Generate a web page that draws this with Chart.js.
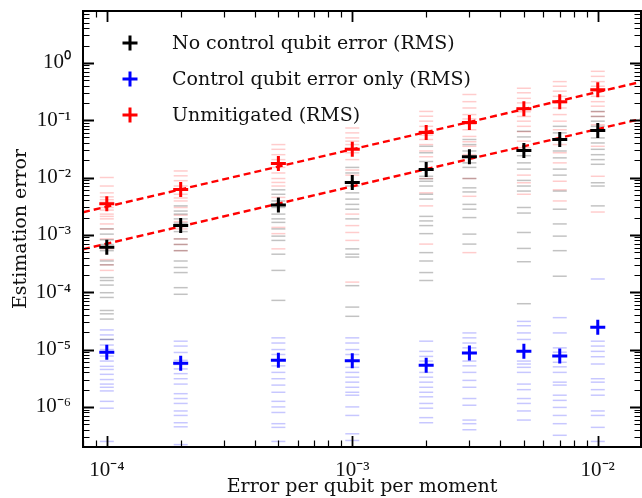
<!DOCTYPE html>
<html>
<head>
<meta charset="utf-8">
<script src="https://cdn.jsdelivr.net/npm/chart.js@4.4.1/dist/chart.umd.min.js"></script>
<style>
  html, body { margin: 0; padding: 0; background: #ffffff; }
  canvas { display: block; }
</style>
</head>
<body>
<canvas id="myChart" width="642" height="498"></canvas>
<script>
//DATA
const errorRates = [1e-4, 2e-4, 5e-4, 1e-3, 2e-3, 3e-3, 5e-3, 7e-3, 1e-2];

const rmsNoControl = [6.1e-4, 1.46e-3, 3.3e-3, 8.2e-3, 1.38e-2, 2.3e-2, 2.95e-2, 4.6e-2, 6.6e-2];
const rmsControlOnly = [9.0e-6, 5.8e-6, 6.5e-6, 6.4e-6, 5.3e-6, 8.7e-6, 9.3e-6, 7.7e-6, 2.46e-5];
const rmsUnmitigated = [3.5e-3, 6.2e-3, 1.75e-2, 3.1e-2, 6.1e-2, 9.1e-2, 0.158, 0.21, 0.34];

//single-run estimates (one list per error rate)
const samplesNoControl = [
  [1.27e-3, 1.03e-3, 8.2e-4, 6.8e-4, 5.3e-4, 3.5e-4, 3.0e-4, 1.8e-4, 1.6e-4, 1.33e-4, 9.8e-5, 8.1e-5, 4.8e-5, 4.2e-5, 3.4e-5, 1.5e-5],
  [3.2e-3, 2.6e-3, 2.3e-3, 1.9e-3, 1.6e-3, 1.4e-3, 1.14e-3, 8.5e-4, 6.8e-4, 5.3e-4, 3.5e-4, 2.7e-4, 2.2e-4, 1.2e-4, 9.2e-5],
  [6.1e-3, 5.1e-3, 3.9e-3, 3.0e-3, 2.3e-3, 1.9e-3, 1.65e-3, 1.27e-3, 9.5e-4, 8.0e-4, 4.6e-4, 2.4e-4, 7.2e-5],
  [1.5e-2, 1.2e-2, 7.1e-3, 5.4e-3, 4.2e-3, 3.4e-3, 2.8e-3, 1.9e-3, 5.7e-4, 4.6e-4, 4.1e-4, 1.3e-4, 5.5e-5, 3.8e-5],
  [3.5e-2, 2.7e-2, 1.9e-2, 1.05e-2, 9.5e-3, 8.6e-3, 7.1e-3, 5.1e-3, 4.2e-3, 2.1e-3, 1.75e-3, 1.45e-3, 1.05e-3, 4.9e-4, 3.5e-4, 2.2e-4, 1.6e-4],
  [4.6e-2, 3.75e-2, 2.9e-2, 1.8e-2, 1.5e-2, 9.6e-3, 6.6e-3, 5.6e-3, 3.4e-3, 2.8e-3, 2.0e-3, 1.03e-3, 6.9e-4],
  [6.4e-2, 5.1e-2, 2.4e-2, 1.8e-2, 1.4e-2, 8.9e-3, 7.1e-3, 5.8e-3, 3.0e-3, 2.4e-3, 1.1e-3, 5.8e-4, 3.4e-4, 6.3e-5],
  [7.8e-2, 6.0e-2, 2.9e-2, 2.2e-2, 1.4e-2, 1.1e-2, 5.8e-3, 2.8e-3, 1.55e-3, 9.5e-4, 5.3e-4, 1.9e-4],
  [0.142, 0.116, 9.6e-2, 7.8e-2, 4.9e-2, 4.0e-2, 3.1e-2, 2.5e-2, 2.05e-2, 1.7e-2, 8.1e-3, 7.1e-3, 3.2e-3],
];

const samplesControlOnly = [
  [2.2e-5, 1.8e-5, 1.5e-5, 1.2e-5, 1.0e-5, 7.7e-6, 6.3e-6, 5.1e-6, 4.5e-6, 3.7e-6, 3.0e-6, 2.5e-6, 2.2e-6, 1.9e-6, 1.25e-6, 9.5e-7, 2.5e-7],
  [1.4e-5, 1.15e-5, 8.9e-6, 6.5e-6, 5.5e-6, 4.6e-6, 3.8e-6, 3.1e-6, 2.5e-6, 1.7e-6, 1.4e-6, 1.15e-6, 8.5e-7, 7.1e-7, 5.3e-7, 4.5e-7, 2.2e-7],
  [1.6e-5, 1.3e-5, 1.0e-5, 8.2e-6, 5.2e-6, 4.0e-6, 3.1e-6, 2.4e-6, 1.8e-6, 1.25e-6, 1.0e-6, 8.0e-7, 5.1e-7, 4.4e-7, 2.5e-7],
  [1.6e-5, 1.3e-5, 1.0e-5, 8.2e-6, 4.9e-6, 4.0e-6, 3.3e-6, 2.7e-6, 2.2e-6, 1.8e-6, 1.6e-6, 1.0e-6, 7.1e-7, 3.4e-7, 2.6e-7],
  [1.4e-5, 9.3e-6, 7.6e-6, 6.3e-6, 4.0e-6, 3.3e-6, 2.7e-6, 2.2e-6, 1.8e-6, 1.5e-6, 1.15e-6, 9.5e-7, 6.5e-7, 5.3e-7],
  [1.95e-5, 1.6e-5, 1.3e-5, 1.07e-5, 6.3e-6, 5.2e-6, 4.0e-6, 2.9e-6, 2.2e-6, 1.4e-6, 1.07e-6, 5.9e-7, 5.1e-7, 4.0e-7],
  [3.1e-5, 2.6e-5, 1.95e-5, 1.5e-5, 6.3e-6, 5.6e-6, 4.9e-6, 4.0e-6, 2.5e-6, 2.0e-6, 1.4e-6, 1.15e-6, 8.5e-7, 5.9e-7],
  [3.6e-5, 1.95e-5, 1.07e-5, 9.0e-6, 6.0e-6, 5.0e-6, 4.0e-6, 2.7e-6, 2.4e-6, 1.6e-6, 1.3e-6, 9.8e-7, 7.1e-7, 5.1e-7, 3.2e-7],
  [1.7e-4, 1.4e-5, 1.15e-5, 9.3e-6, 7.5e-6, 5.6e-6, 3.1e-6, 2.7e-6, 2.0e-6, 1.6e-6, 8.5e-7, 7.1e-7, 4.4e-7, 2.5e-7],
];

const samplesUnmitigated = [
  [1.0e-2, 7.1e-3, 5.4e-3, 4.6e-3, 4.1e-3, 3.7e-3, 3.0e-3, 2.7e-3, 2.3e-3, 2.1e-3, 1.9e-3, 1.55e-3, 1.27e-3, 8.5e-4, 5.7e-4, 3.7e-4, 3.0e-4, 2.4e-4],
  [1.3e-2, 1.07e-2, 8.8e-3, 7.1e-3, 6.0e-3, 5.1e-3, 4.4e-3, 3.9e-3, 3.0e-3, 2.2e-3, 1.7e-3, 1.27e-3, 8.5e-4, 6.8e-4, 5.3e-4],
  [3.75e-2, 3.1e-2, 2.5e-2, 2.05e-2, 1.75e-2, 1.5e-2, 1.2e-2, 9.6e-3, 8.2e-3, 7.1e-3, 4.5e-3, 1.35e-3, 1.05e-3, 5.7e-4],
  [7.3e-2, 6.0e-2, 4.9e-2, 4.3e-2, 3.75e-2, 3.2e-2, 2.7e-2, 2.05e-2, 1.35e-2, 1.1e-2, 2.3e-3, 1.45e-3, 1.1e-3, 8.0e-4, 1.5e-4],
  [0.142, 0.117, 9.6e-2, 7.8e-2, 6.5e-2, 5.5e-2, 4.6e-2, 3.75e-2, 2.9e-2, 2.3e-2, 9.6e-3, 5.4e-3, 3.2e-3, 6.9e-4],
  [0.28, 0.21, 0.163, 0.125, 0.105, 8.5e-2, 6.8e-2, 5.2e-2, 4.2e-2, 3.5e-2, 2.5e-2, 9.6e-3, 4.7e-3, 4.9e-4],
  [0.36, 0.30, 0.24, 0.2, 0.165, 0.14, 0.116, 9.6e-2, 7.8e-2, 6.3e-2, 4.3e-2, 3.3e-2, 1.1e-2, 8.1e-3, 5.1e-3],
  [0.47, 0.39, 0.32, 0.26, 0.2, 0.163, 0.125, 9.6e-2, 6.8e-2, 3.75e-2, 2.7e-2, 1.8e-2, 8.6e-3, 6.1e-3, 3.9e-3],
  [0.71, 0.58, 0.47, 0.39, 0.32, 0.26, 0.21, 0.175, 0.14, 0.116, 8.3e-2, 3.5e-2, 1.05e-2, 2.5e-3],
];

//dashed fit lines, end points at the axis limits
const fitX = [8e-5, 1.5e-2];
const fitUnmitigated = [2.48e-3, 0.465];
const fitNoControl = [5.6e-4, 0.105];

//AXES
const xLimits = [8e-5, 1.5e-2];
const yLimits = [2e-7, 8];
const xTickValues = [1e-4, 1e-3, 1e-2];
const xTickLabels = ["10\u207B\u2074", "10\u207B\u00B3", "10\u207B\u00B2"];
const yTickValues = [1e-6, 1e-5, 1e-4, 1e-3, 1e-2, 1e-1, 1e0];
const yTickLabels = ["10\u207B\u2076", "10\u207B\u2075", "10\u207B\u2074", "10\u207B\u00B3", "10\u207B\u00B2", "10\u207B\u00B9", "10\u2070"];

const legendLabels = ["No control qubit error (RMS)", "Control qubit error only (RMS)", "Unmitigated (RMS)"];
const seriesColours = ["#000000", "#0000ff", "#ff0000"];
const sampleColours = ["rgba(0,0,0,0.24)", "rgba(0,0,255,0.22)", "rgba(255,0,0,0.2)"];

const SERIF = '"DejaVu Serif", serif';
const TICKFONT = '"Liberation Serif", serif';
const TEXTCOLOUR = "#111";

//HELPERS
function toPoints(xs, ys) {
  return xs.map((x, i) => ({ x: x, y: ys[i] }));
}
function flattenSamples(groups) {
  const pts = [];
  groups.forEach((list, i) => list.forEach((v) => pts.push({ x: errorRates[i], y: v })));
  return pts;
}

function sampleSet(groups, colour) {
  return {
    data: flattenSamples(groups),
    pointStyle: "line",
    pointRadius: 7,
    borderWidth: 1.5,
    borderColor: colour,
    backgroundColor: colour,
    order: 3,
  };
}
function fitSet(ys) {
  return {
    data: toPoints(fitX, ys),
    showLine: true,
    borderColor: "#ff0000",
    borderWidth: 2.4,
    borderDash: [7, 4],
    pointRadius: 0,
    order: 2,
  };
}
function rmsSet(ys, colour) {
  return {
    data: toPoints(errorRates, ys),
    pointStyle: "cross",
    pointRadius: 7.5,
    borderWidth: 3,
    borderColor: colour,
    backgroundColor: colour,
    order: 1,
  };
}

//no automatic label padding, the plot box is set by layout.padding
function clearPadding(axis) {
  axis.paddingTop = 0;
  axis.paddingBottom = 0;
  axis.paddingLeft = 0;
  axis.paddingRight = 0;
}

//FRAME + INWARD TICKS ON ALL SIDES
const framePlugin = {
  id: "frameTicks",
  afterDraw(chart) {
    const ctx = chart.ctx;
    const a = chart.chartArea;
    const xs = chart.scales.x;
    const ys = chart.scales.y;
    ctx.save();
    ctx.strokeStyle = "#000";

    function logValues(lim) {
      const out = [];
      for (let d = Math.floor(Math.log10(lim[0])); d <= Math.ceil(Math.log10(lim[1])); d++) {
        for (let m = 1; m <= 9; m++) {
          const v = m * Math.pow(10, d);
          if (v >= lim[0] && v <= lim[1]) out.push({ v: v, major: m === 1 });
        }
      }
      return out;
    }

    logValues(xLimits).forEach((t) => {
      const px = Math.round(xs.getPixelForValue(t.v)) + 0.5;
      const len = t.major ? 11 : 6.5;
      ctx.lineWidth = t.major ? 1.8 : 1.2;
      ctx.beginPath();
      ctx.moveTo(px, a.bottom);
      ctx.lineTo(px, a.bottom - len);
      ctx.moveTo(px, a.top);
      ctx.lineTo(px, a.top + len);
      ctx.stroke();
    });
    logValues(yLimits).forEach((t) => {
      const py = Math.round(ys.getPixelForValue(t.v)) + 0.5;
      const len = t.major ? 11 : 6.5;
      ctx.lineWidth = t.major ? 1.8 : 1.2;
      ctx.beginPath();
      ctx.moveTo(a.left, py);
      ctx.lineTo(a.left + len, py);
      ctx.moveTo(a.right, py);
      ctx.lineTo(a.right - len, py);
      ctx.stroke();
    });

    ctx.lineWidth = 2;
    ctx.strokeRect(a.left, a.top, a.right - a.left, a.bottom - a.top);
    ctx.restore();
  },
};

//LEGEND INSIDE THE PLOT
const legendPlugin = {
  id: "insideLegend",
  afterDraw(chart) {
    const ctx = chart.ctx;
    ctx.save();
    legendLabels.forEach((label, i) => {
      const mx = 130;
      const my = 43 + i * 36;
      ctx.strokeStyle = seriesColours[i];
      ctx.lineWidth = 3;
      ctx.beginPath();
      ctx.moveTo(mx - 7.5, my);
      ctx.lineTo(mx + 7.5, my);
      ctx.moveTo(mx, my - 7.5);
      ctx.lineTo(mx, my + 7.5);
      ctx.stroke();
      ctx.fillStyle = TEXTCOLOUR;
      ctx.font = "19px " + SERIF;
      ctx.textAlign = "left";
      ctx.textBaseline = "middle";
      ctx.fillText(label, 172, my + 1);
    });
    ctx.restore();
  },
};

//CHART CONFIGURATION
const data = {
  datasets: [
    sampleSet(samplesNoControl, sampleColours[0]),
    sampleSet(samplesControlOnly, sampleColours[1]),
    sampleSet(samplesUnmitigated, sampleColours[2]),
    fitSet(fitUnmitigated),
    fitSet(fitNoControl),
    rmsSet(rmsNoControl, seriesColours[0]),
    rmsSet(rmsControlOnly, seriesColours[1]),
    rmsSet(rmsUnmitigated, seriesColours[2]),
  ],
};

const config = {
  type: "scatter",
  data,
  options: {
    responsive: false,
    animation: false,
    events: [],
    devicePixelRatio: 1,
    layout: { autoPadding: false, padding: { top: 11, right: 1, left: 0, bottom: 0 } },
    plugins: {
      legend: { display: false },
      tooltip: { enabled: false },
    },
    scales: {
      x: {
        type: "logarithmic",
        min: xLimits[0],
        max: xLimits[1],
        afterBuildTicks: (axis) => {
          axis.ticks = xTickValues.map((v) => ({ value: v }));
        },
        afterFit: (axis) => {
          axis.height = 51;
          clearPadding(axis);
        },
        grid: { display: false },
        border: { display: false },
        ticks: {
          autoSkip: false,
          maxRotation: 0,
          padding: 3,
          color: TEXTCOLOUR,
          font: { family: TICKFONT, size: 21 },
          callback: (v, i) => xTickLabels[i],
        },
        title: {
          display: true,
          text: "Error per qubit per moment",
          color: TEXTCOLOUR,
          font: { family: SERIF, size: 19 },
          padding: { top: 0, bottom: 0 },
        },
      },
      y: {
        type: "logarithmic",
        min: yLimits[0],
        max: yLimits[1],
        afterBuildTicks: (axis) => {
          axis.ticks = yTickValues.map((v) => ({ value: v }));
        },
        afterFit: (axis) => {
          axis.width = 83;
          clearPadding(axis);
        },
        grid: { display: false },
        border: { display: false },
        ticks: {
          autoSkip: false,
          padding: 4,
          color: TEXTCOLOUR,
          font: { family: TICKFONT, size: 21 },
          callback: (v, i) => yTickLabels[i],
        },
        title: {
          display: true,
          text: "Estimation error",
          color: TEXTCOLOUR,
          font: { family: SERIF, size: 19 },
          padding: { top: 10, bottom: 0 },
        },
      },
    },
  },
  plugins: [framePlugin, legendPlugin],
};

// RENDER CHART
const myChart = new Chart(document.getElementById("myChart"), config);
</script>
</body>
</html>
